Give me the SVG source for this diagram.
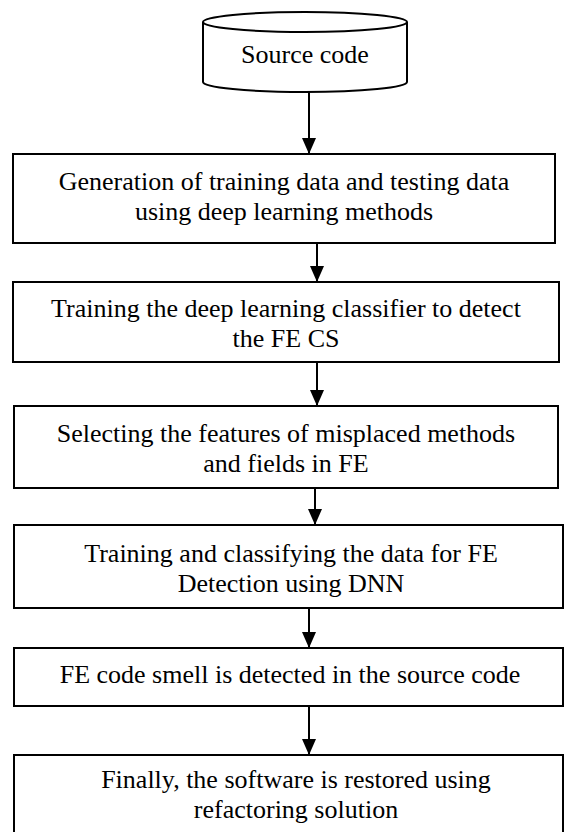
<svg xmlns="http://www.w3.org/2000/svg" width="565" height="832" viewBox="0 0 565 832">
  <style>
    .shape { fill: #ffffff; stroke: #000000; stroke-width: 2; }
    .label { font-size: 26px; fill: #000000; text-anchor: middle; }
    .link { fill: none; stroke: #000000; stroke-width: 2; }
  </style>
  <defs>
    <marker id="arrow" markerUnits="userSpaceOnUse" markerWidth="16" markerHeight="14" refX="16" refY="7" orient="auto" viewBox="0 0 16 14">
      <path d="M0,0 L16,7 L0,14 Z" fill="#000000"/>
    </marker>
  </defs>
  <rect width="565" height="832" fill="#ffffff"/>

  <g font-family="'Liberation Serif', 'Times New Roman', 'DejaVu Serif', serif">
    <!-- source code store -->
    <g id="source-code">
      <path class="shape" d="M203,22 V82 A102,10 0 0 0 407,82 V22"/>
      <ellipse class="shape" cx="305" cy="22" rx="102" ry="10"/>
      <text class="label" x="305" y="63">Source code</text>
    </g>

    <g id="generation">
      <rect class="shape" x="13" y="154" width="542" height="89"/>
      <text class="label" x="284" y="190">Generation of training data and testing data</text>
      <text class="label" x="284" y="220">using deep learning methods</text>
    </g>

    <g id="training-classifier">
      <rect class="shape" x="13" y="282" width="546" height="80"/>
      <text class="label" x="286" y="317">Training the deep learning classifier to detect</text>
      <text class="label" x="286" y="347">the FE CS</text>
    </g>

    <g id="feature-selection">
      <rect class="shape" x="14" y="406" width="544" height="82"/>
      <text class="label" x="286" y="442">Selecting the features of misplaced methods</text>
      <text class="label" x="286" y="472">and fields in FE</text>
    </g>

    <g id="dnn-detection">
      <rect class="shape" x="14" y="525" width="549" height="83"/>
      <text class="label" x="291" y="562">Training and classifying the data for FE</text>
      <text class="label" x="291" y="592">Detection using DNN</text>
    </g>

    <g id="smell-detected">
      <rect class="shape" x="14" y="648" width="549" height="58"/>
      <text class="label" x="290" y="683">FE code smell is detected in the source code</text>
    </g>

    <g id="refactoring">
      <rect class="shape" x="14" y="755" width="549" height="100"/>
      <text class="label" x="296" y="788">Finally, the software is restored using</text>
      <text class="label" x="296" y="818">refactoring solution</text>
    </g>
  </g>

  <!-- flow arrows -->
  <g id="connectors">
    <path class="link" d="M309,92 V154" marker-end="url(#arrow)"/>
    <path class="link" d="M317,243 V282" marker-end="url(#arrow)"/>
    <path class="link" d="M317,362 V406" marker-end="url(#arrow)"/>
    <path class="link" d="M315,488 V525" marker-end="url(#arrow)"/>
    <path class="link" d="M309,608 V648" marker-end="url(#arrow)"/>
    <path class="link" d="M309,706 V755" marker-end="url(#arrow)"/>
  </g>
</svg>
